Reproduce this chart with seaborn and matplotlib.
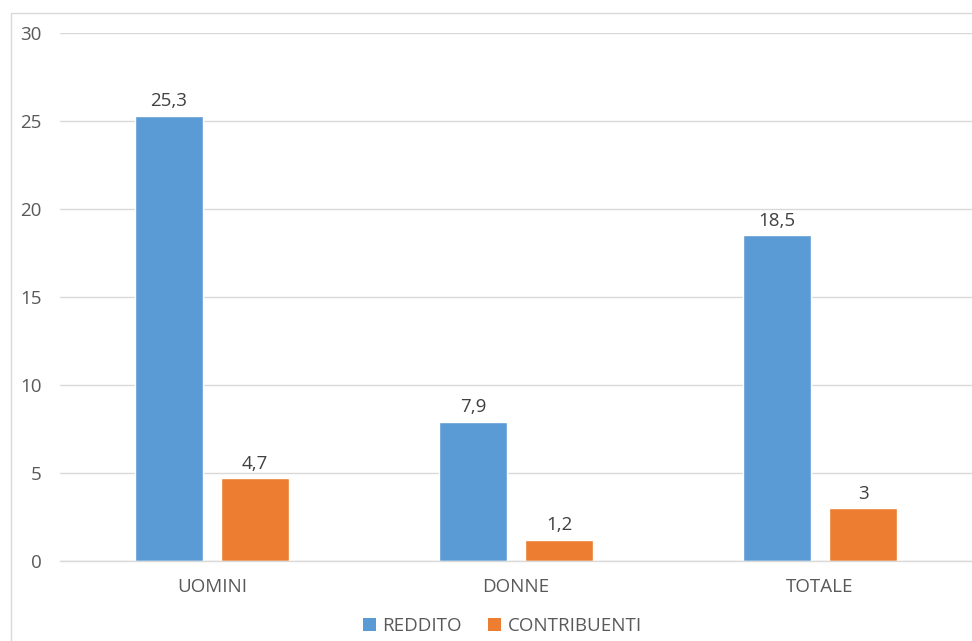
import matplotlib
matplotlib.use("Agg")
import matplotlib.pyplot as plt
import seaborn as sns
import pandas as pd
from matplotlib.lines import Line2D
from matplotlib.patches import Patch

categories = ["UOMINI", "DONNE", "TOTALE"]
series_names = ["REDDITO", "CONTRIBUENTI"]
reddito = [25.3, 7.9, 18.5]
contribuenti = [4.7, 1.2, 3]
value_labels_reddito = ["25,3", "7,9", "18,5"]
value_labels_contribuenti = ["4,7", "1,2", "3"]
y_ticks = [0, 5, 10, 15, 20, 25, 30]

colors = ["#5B9BD5", "#ED7D31"]
text_color = "#595959"
grid_color = "#D9D9D9"

df = pd.DataFrame({
    "cat": categories * 2,
    "serie": [series_names[0]] * 3 + [series_names[1]] * 3,
    "val": reddito + contribuenti,
})

sns.set_theme(style="white")
plt.rcParams['font.family'] = ['Open Sans', 'DejaVu Sans']

FS = 13.5

fig = plt.figure(figsize=(9.72, 6.41), dpi=100)
W, H = 972, 641
ax = fig.add_axes([60 / W, (H - 561) / H, (972 - 60) / W, (561 - 33) / H])

sns.barplot(data=df, x="cat", y="val", hue="serie", order=categories,
            hue_order=series_names, palette=colors, width=0.566, gap=0.209,
            saturation=1, legend=False, ax=ax, errorbar=None)

ax.set_xlim(-0.5, 2.5)
ax.set_ylim(0, 30)
ax.set_yticks(y_ticks)
ax.set_yticklabels([str(t) for t in y_ticks])
ax.yaxis.grid(True, color=grid_color, linewidth=1)
ax.set_axisbelow(True)
for s in ["top", "right", "left"]:
    ax.spines[s].set_visible(False)
ax.spines["bottom"].set_color(grid_color)
ax.spines["bottom"].set_linewidth(1)
ax.tick_params(axis="both", length=0, labelsize=FS, labelcolor=text_color)
ax.tick_params(axis="y", pad=13)
ax.tick_params(axis="x", pad=12)
ax.set_xlabel("")
ax.set_ylabel("")

labels_all = [value_labels_reddito, value_labels_contribuenti]
for cont, labs in zip(ax.containers, labels_all):
    ax.bar_label(cont, labels=labs, padding=4, fontsize=FS, color="#404040")

handles = [Patch(facecolor=c, edgecolor="none") for c in colors]
fig.legend(handles, series_names, loc="center", bbox_to_anchor=(0.517, (H - 626) / H),
           ncol=2, frameon=False, fontsize=FS, labelcolor=text_color,
           handlelength=0.7, handleheight=0.7, handletextpad=0.35, columnspacing=1.4)

fig.add_artist(Line2D([10.5 / W, 10.5 / W], [0, (H - 13) / H], color=grid_color, lw=1, transform=fig.transFigure))
fig.add_artist(Line2D([10.5 / W, 1], [(H - 13) / H, (H - 13) / H], color=grid_color, lw=1, transform=fig.transFigure))

fig.savefig("out.png", dpi=100)
